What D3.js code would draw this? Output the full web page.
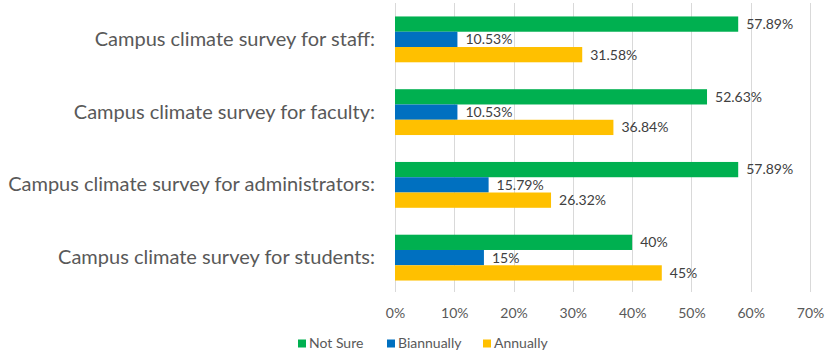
<!DOCTYPE html>
<html>
<head>
<meta charset="utf-8">
<script src="https://cdn.jsdelivr.net/npm/d3@7"></script>
<style>
  html, body { margin: 0; padding: 0; background: #fff; }
  svg { display: block; }
  text { font-family: Lato, "Open Sans", sans-serif; }
</style>
</head>
<body>
<svg id="chart" width="826" height="354"></svg>
<script>
// Survey groups, top to bottom
const categories = [
  "Campus climate survey for staff:",
  "Campus climate survey for faculty:",
  "Campus climate survey for administrators:",
  "Campus climate survey for students:"
];
const seriesNames = ["Not Sure", "Biannually", "Annually"];
const seriesColors = ["#00B050", "#0070C0", "#FFC000"];
// Shares in percent, one array per series, in category order
const notSure    = [57.89, 52.63, 57.89, 40];
const biannually = [10.53, 10.53, 15.79, 15];
const annually   = [31.58, 36.84, 26.32, 45];
const valueLabels = [
  ["57.89%", "52.63%", "57.89%", "40%"],
  ["10.53%", "10.53%", "15.79%", "15%"],
  ["31.58%", "36.84%", "26.32%", "45%"]
];
const xTicks = [0, 10, 20, 30, 40, 50, 60, 70];

const series = [notSure, biannually, annually];

const svg = d3.select("#chart");
const plot = { left: 395, right: 810, top: 3, bottom: 294 };

const x = d3.scaleLinear().domain([0, 70]).range([plot.left, plot.right]);
const y = d3.scaleBand().domain(categories).range([plot.top, plot.bottom]).paddingInner(0.37).paddingOuter(0.185);
const ySub = d3.scaleBand().domain(d3.range(series.length)).range([0, y.bandwidth()]);

// vertical gridlines
svg.append("g")
  .selectAll("line")
  .data(xTicks)
  .join("line")
  .attr("x1", d => Math.round(x(d)) + 0.5)
  .attr("x2", d => Math.round(x(d)) + 0.5)
  .attr("y1", plot.top)
  .attr("y2", plot.bottom - 2)
  .attr("stroke", "#d9d9d9")
  .attr("stroke-width", 1);

// x axis tick labels
const xAxis = d3.axisBottom(x).tickValues(xTicks).tickFormat(d => d + "%").tickSize(0).tickPadding(0);
const gx = svg.append("g").attr("transform", `translate(0, ${plot.bottom + 14})`).call(xAxis);
gx.select(".domain").remove();
gx.selectAll("text")
  .attr("font-family", "Lato, sans-serif")
  .attr("font-size", 14)
  .attr("fill", "#595959");

// category labels
const gy = svg.append("g").attr("transform", `translate(${plot.left - 20}, 0)`)
  .call(d3.axisLeft(y).tickSize(0).tickPadding(0));
gy.select(".domain").remove();
gy.selectAll("text")
  .attr("font-family", "Lato, sans-serif")
  .attr("font-size", 20)
  .attr("fill", "#595959");

// bars and value labels
series.forEach((vals, si) => {
  const g = svg.append("g");
  g.selectAll("rect")
    .data(vals)
    .join("rect")
    .attr("x", x(0))
    .attr("y", (d, i) => y(categories[i]) + ySub(si))
    .attr("width", d => x(d) - x(0))
    .attr("height", ySub.bandwidth())
    .attr("fill", seriesColors[si]);
  g.selectAll("text")
    .data(vals)
    .join("text")
    .attr("x", d => x(d) + 8)
    .attr("y", (d, i) => y(categories[i]) + ySub(si) + ySub.bandwidth() / 2)
    .attr("dy", "0.35em")
    .attr("font-size", 14)
    .attr("fill", "#404040")
    .text((d, i) => valueLabels[si][i]);
});

// legend
const legendX = [298, 387, 483];
const legend = svg.append("g");
seriesNames.forEach((name, i) => {
  legend.append("rect")
    .attr("x", legendX[i]).attr("y", 339.5)
    .attr("width", 8).attr("height", 8)
    .attr("fill", seriesColors[i]);
  legend.append("text")
    .attr("x", legendX[i] + 11).attr("y", 343.5)
    .attr("dy", "0.35em")
    .attr("font-size", 14)
    .attr("fill", "#595959")
    .text(name);
});
</script>
</body>
</html>
